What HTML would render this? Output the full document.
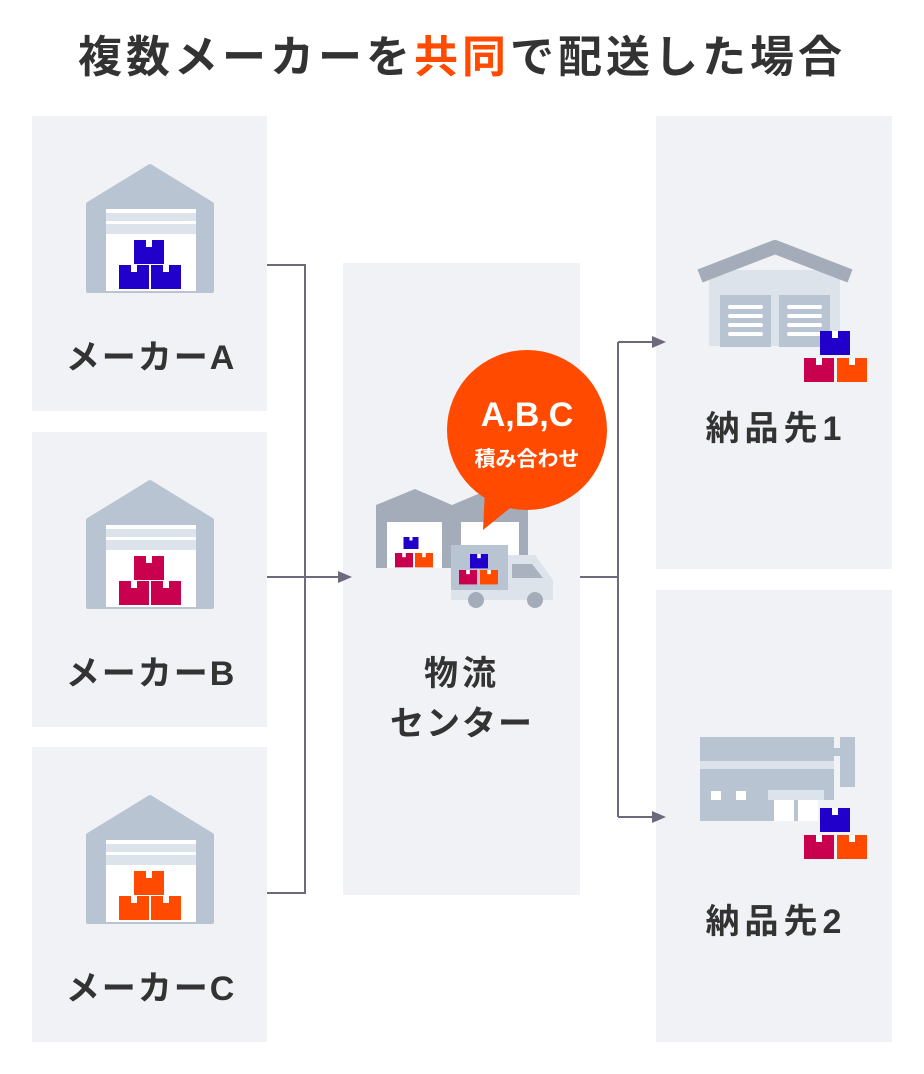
<!DOCTYPE html>
<html><head><meta charset="utf-8"><style>
body{margin:0;background:#fff;}
svg{display:block;font-family:"Liberation Sans","Noto Sans CJK JP",sans-serif;}
</style></head><body>
<svg width="924" height="1074" viewBox="0 0 924 1074">
<defs>
<g id="box"><rect x="0" y="0" width="30" height="24" /><rect x="12" y="0" width="6" height="7" fill="#fff"/></g>
<g id="wh">
<path d="M0,38 L62,0 L124,38 L124,125 L0,125 Z" fill="#b9c4d2" stroke="#b9c4d2" stroke-width="4" stroke-linejoin="round"/>
<rect x="18" y="43" width="90" height="82" fill="#fff"/>
<rect x="18" y="47" width="90" height="8" fill="#dde3eb"/>
<rect x="18" y="58" width="90" height="10" fill="#dde3eb"/>
</g>
</defs>
<text x="462" y="72" font-size="44" font-weight="bold" fill="#333" text-anchor="middle" letter-spacing="4">複数メーカーを<tspan fill="#ff4a00">共同</tspan>で配送した場合</text>

<rect x="32" y="116" width="235" height="295" fill="#f0f2f6"/>
<rect x="32" y="432" width="235" height="295" fill="#f0f2f6"/>
<rect x="32" y="747" width="235" height="295" fill="#f0f2f6"/>
<rect x="343" y="263" width="237" height="632" fill="#f0f2f6"/>
<rect x="656" y="116" width="236" height="453" fill="#f0f2f6"/>
<rect x="656" y="590" width="236" height="452" fill="#f0f2f6"/>

<g transform="translate(88,166)"><use href="#wh"/><g fill="#2200cc"><use href="#box" x="46" y="74"/><use href="#box" x="31" y="99"/><use href="#box" x="63" y="99"/></g></g>
<g transform="translate(88,482)"><use href="#wh"/><g fill="#c8004e"><use href="#box" x="46" y="74"/><use href="#box" x="31" y="99"/><use href="#box" x="63" y="99"/></g></g>
<g transform="translate(88,797)"><use href="#wh"/><g fill="#ff4a00"><use href="#box" x="46" y="74"/><use href="#box" x="31" y="99"/><use href="#box" x="63" y="99"/></g></g>
<g font-size="34" font-weight="bold" fill="#333" text-anchor="middle" letter-spacing="2">
<text x="151" y="369">メーカーA</text>
<text x="151" y="685">メーカーB</text>
<text x="151" y="1000">メーカーC</text>
<text x="462" y="685" letter-spacing="4">物流</text>
<text x="462" y="735">センター</text>
<text x="776" y="440" letter-spacing="5">納品先1</text>
<text x="776" y="933" letter-spacing="5">納品先2</text>
</g>

<g stroke="#6e6a7c" stroke-width="2" fill="none">
<path d="M267,265 H305 V893 H267 M267,577 H340"/>
<path d="M580,577 H618 M618,342 V817 M618,342 H655 M618,817 H655"/>
</g>
<g fill="#6e6a7c">
<path d="M352,577 L338,571 L338,583 Z"/>
<path d="M666,342 L652,336 L652,348 Z"/>
<path d="M666,817 L652,811 L652,823 Z"/>
</g>

<path d="M376,505 L415,489 L452,505 L490,489 L528,505 L528,568 L376,568 Z" fill="#a3acb8"/>
<rect x="387" y="522" width="55" height="46" fill="#fff"/>
<rect x="461" y="522" width="58" height="46" fill="#fff"/>
<g transform="translate(396,537) scale(0.5)" fill="#2200cc"><use href="#box" x="15" y="0"/></g>
<g fill="#c8004e" transform="translate(395,553) scale(0.6)"><use href="#box"/></g>
<g fill="#ff4a00" transform="translate(415,553) scale(0.6)"><use href="#box"/></g>
<circle cx="527" cy="430" r="80" fill="#ff4a00"/>
<path d="M485,490 L483,530 L520,500 Z" fill="#ff4a00"/>
<text x="527" y="426" font-size="34" font-weight="bold" fill="#fff" text-anchor="middle">A,B,C</text>
<text x="527" y="466" font-size="21" font-weight="bold" fill="#fff" text-anchor="middle">積み合わせ</text>
<path d="M506,555 H535 L553,580 V600 H506 Z" fill="#dde3eb"/>
<path d="M512,564 H532 L543,578 H512 Z" fill="#a9b2be"/>
<rect x="451" y="545" width="57" height="55" fill="#b9c4d2"/>
<rect x="451" y="590" width="102" height="10" fill="#dde3eb"/>
<circle cx="476" cy="600" r="8" fill="#a3acb8"/><circle cx="535" cy="600" r="8" fill="#a3acb8"/>
<g transform="translate(470,554) scale(0.6)" fill="#2200cc"><use href="#box"/></g>
<g transform="translate(459,570) scale(0.6)" fill="#c8004e"><use href="#box"/></g>
<g transform="translate(480,570) scale(0.6)" fill="#ff4a00"><use href="#box"/></g>

<rect x="709" y="270" width="131" height="76" fill="#dde3eb"/>
<path d="M700,276 L775,247 L850,276" stroke="#a3acb8" stroke-width="14" fill="none" stroke-linejoin="round"/>
<rect x="720" y="295" width="51" height="52" fill="#b9c4d2"/>
<rect x="779" y="295" width="51" height="52" fill="#b9c4d2"/>
<g fill="#fff"><rect x="728" y="305" width="35" height="4" rx="2"/><rect x="728" y="314" width="35" height="4" rx="2"/><rect x="728" y="323" width="35" height="4" rx="2"/><rect x="728" y="332" width="35" height="4" rx="2"/>
<rect x="787" y="305" width="35" height="4" rx="2"/><rect x="787" y="314" width="35" height="4" rx="2"/><rect x="787" y="323" width="35" height="4" rx="2"/><rect x="787" y="332" width="35" height="4" rx="2"/></g>
<g fill="#2200cc"><use href="#box" x="820" y="331"/></g>
<g fill="#c8004e"><use href="#box" x="804" y="358"/></g>
<g fill="#ff4a00"><use href="#box" x="837" y="358"/></g>

<rect x="700" y="737" width="134" height="63" fill="#b9c4d2"/>
<rect x="700" y="761" width="134" height="8" fill="#dde3eb"/>
<rect x="840" y="737" width="15" height="50" fill="#b9c4d2"/>
<rect x="834" y="748" width="6" height="8" fill="#b9c4d2"/>
<rect x="711" y="791" width="10" height="10" fill="#fff"/><rect x="736" y="791" width="10" height="10" fill="#fff"/>
<rect x="768" y="790" width="56" height="10" fill="#dde3eb"/>
<rect x="774" y="800" width="20" height="21" fill="#fff"/><rect x="798" y="800" width="20" height="21" fill="#fff"/>
<rect x="700" y="800" width="74" height="21" fill="#b9c4d2"/>
<rect x="794" y="800" width="4" height="21" fill="#b9c4d2"/>
<g fill="#2200cc"><use href="#box" x="820" y="808"/></g>
<g fill="#c8004e"><use href="#box" x="804" y="835"/></g>
<g fill="#ff4a00"><use href="#box" x="837" y="835"/></g>
</svg>
</body></html>
